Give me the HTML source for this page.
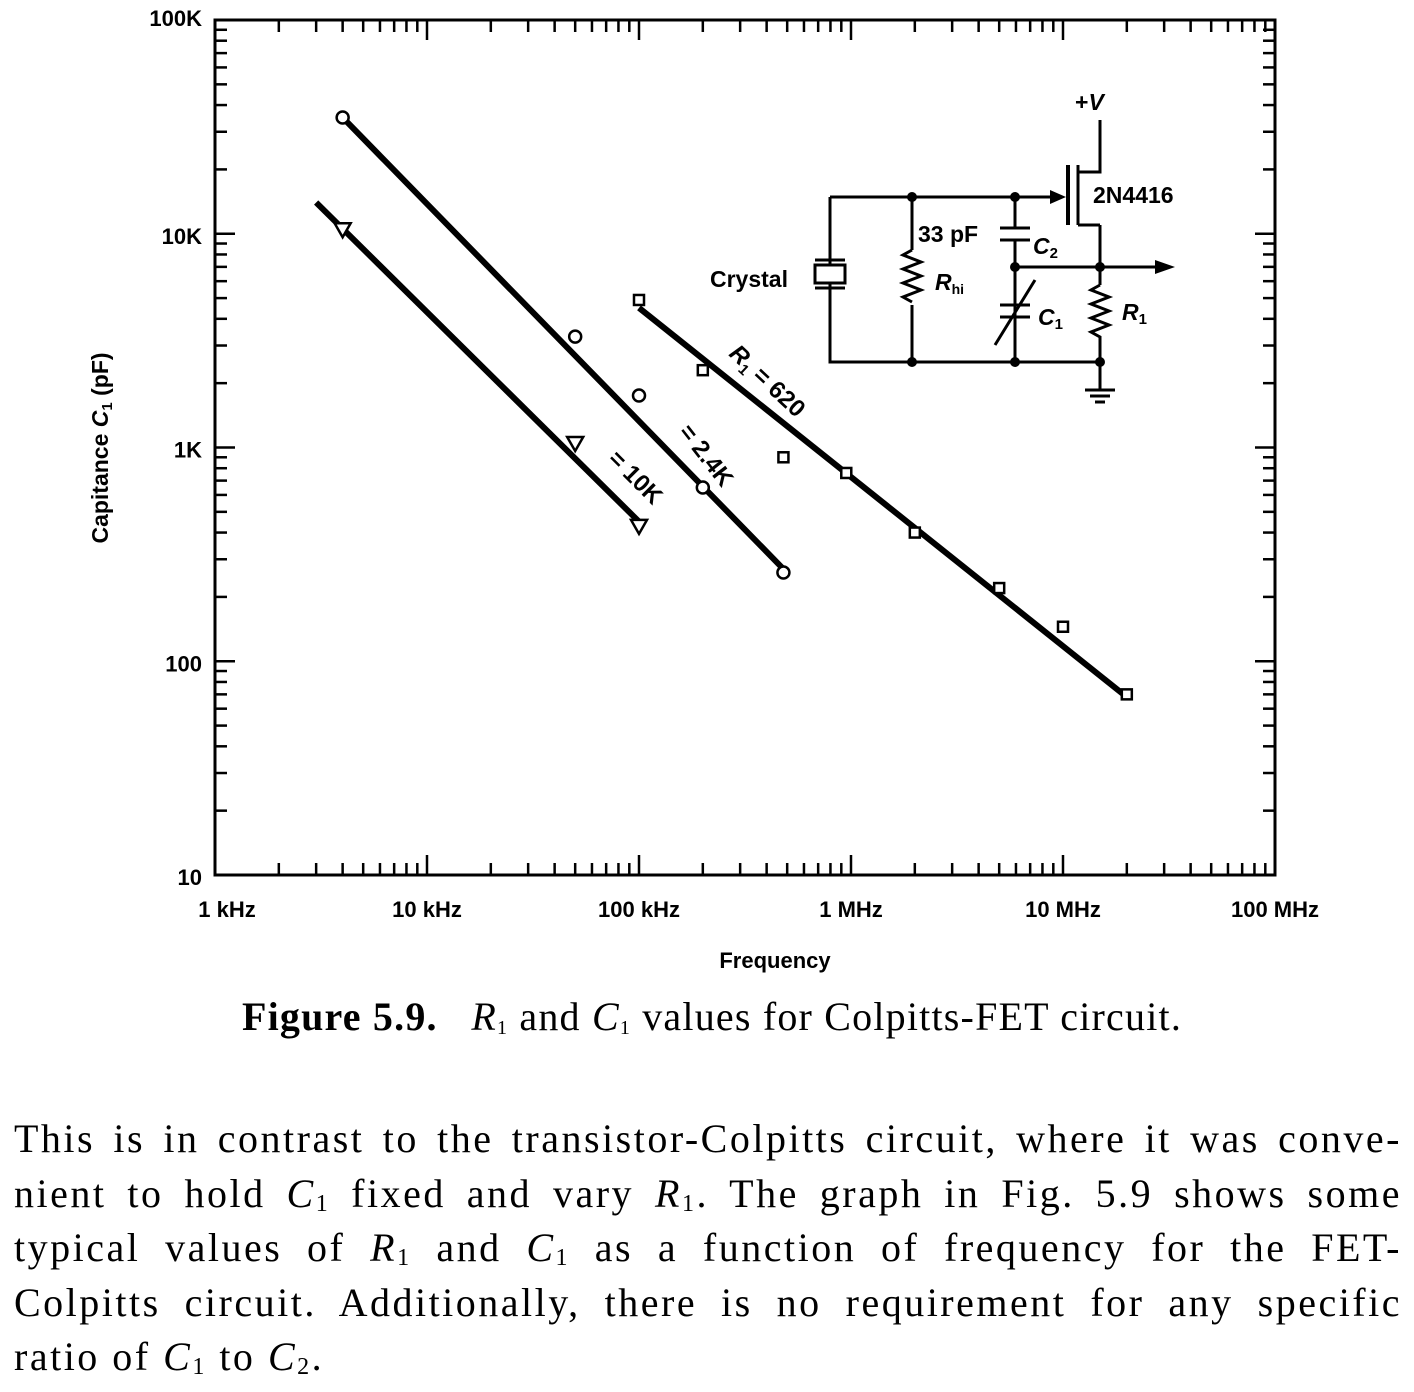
<!DOCTYPE html>
<html><head><meta charset="utf-8">
<style>
body{margin:0;background:#fff;width:1414px;height:1392px;overflow:hidden;position:relative;font-family:"Liberation Sans",sans-serif}
#cap{position:absolute;left:0;width:1424px;top:993px;text-align:center;font-family:"Liberation Serif",serif;font-size:40px;letter-spacing:1.2px}
#para{position:absolute;left:14px;width:1388px;top:1112px;font-family:"Liberation Serif",serif;font-size:40px;line-height:54.5px;letter-spacing:2.5px}
.ln{text-align:justify;text-align-last:justify;white-space:nowrap;height:54.5px}
.ln.last{text-align-last:left}
sub{font-size:24px;vertical-align:-4px;line-height:0}
</style></head><body>
<svg id="chart" width="1414" height="990" style="position:absolute;left:0;top:0" font-family="Liberation Sans, sans-serif"></svg>
<div id="cap"><b>Figure 5.9.</b>&nbsp;&nbsp; <i>R</i><sub style="font-size:20px">1</sub> and <i>C</i><sub style="font-size:20px">1</sub> values for Colpitts-FET circuit.</div>
<div id="para">
<div class="ln">This is in contrast to the transistor-Colpitts circuit, where it was conve-</div>
<div class="ln">nient to hold <i>C</i><sub>1</sub> fixed and vary <i>R</i><sub>1</sub>. The graph in Fig. 5.9 shows some</div>
<div class="ln">typical values of <i>R</i><sub>1</sub> and <i>C</i><sub>1</sub> as a function of frequency for the FET-</div>
<div class="ln">Colpitts circuit. Additionally, there is no requirement for any specific</div>
<div class="ln last">ratio of <i>C</i><sub>1</sub> to <i>C</i><sub>2</sub>.</div>
</div>
<script>
const xTickLabels=["1 kHz","10 kHz","100 kHz","1 MHz","10 MHz","100 MHz"];
const yTickLabels=["10","100","1K","10K","100K"];
const circF=[4,50,100,200,480];
const circC=[35000,3300,1750,650,260];
const triF=[4,50,100];
const triC=[10500,1050,430];
const sqF=[100,200,480,950,2000,5000,10000,20000];
const sqC=[4900,2300,900,760,400,220,145,70];
const lineCirc=[[4,35000],[480,270]];
const lineTri=[[3,14000],[100,450]];
const lineSq=[[100,4500],[20000,68]];

const L=215,R=1275,T=20,B=875;
const X=f=>L+(R-L)/5*Math.log10(f);
const Y=c=>B-(B-T)/4*Math.log10(c/10);
const svg=document.getElementById('chart');
const NS='http://www.w3.org/2000/svg';
function el(t,a,name){const e=document.createElementNS(NS,t);for(const k in a)e.setAttribute(k,a[k]);


svg.appendChild(e);return e;}
el('rect',{x:L,y:T,width:R-L,height:B-T,fill:'none',stroke:'#000','stroke-width':3},'plot-frame');
for(let d=0;d<5;d++)for(let m=1;m<=9;m++){const f=Math.pow(10,d)*m;const x=X(f);const len=m==1?20:12;
 el('line',{x1:x,y1:B,x2:x,y2:B-len,stroke:'#000','stroke-width':2.5},'x-tick');
 el('line',{x1:x,y1:T,x2:x,y2:T+len,stroke:'#000','stroke-width':2.5},'x-tick-top');}
for(let d=0;d<4;d++)for(let m=1;m<=9;m++){const c=10*Math.pow(10,d)*m;const y=Y(c);const len=m==1?20:12;
 el('line',{x1:L,y1:y,x2:L+len,y2:y,stroke:'#000','stroke-width':2.5},'y-tick');
 el('line',{x1:R,y1:y,x2:R-len,y2:y,stroke:'#000','stroke-width':2.5},'y-tick-right');}
xTickLabels.forEach((s,i)=>{const t=el('text',{x:X(Math.pow(10,i))+(i==0?12:0),y:917,'font-size':22,'font-weight':'bold','text-anchor':'middle'},'x-tick-label');t.textContent=s;});
yTickLabels.forEach((s,i)=>{const t=el('text',{x:202,y:Y(10*Math.pow(10,i))+(i==4?6:10),'font-size':22,'font-weight':'bold','text-anchor':'end'},'y-tick-label');t.textContent=s;});
let t=el('text',{x:775,y:968,'font-size':22,'font-weight':'bold','text-anchor':'middle'},'x-axis-title');t.textContent='Frequency';
t=el('text',{x:0,y:0,'font-size':23,'font-weight':'bold','text-anchor':'middle',transform:'translate(108,448) rotate(-90)'},'y-axis-title');
t.innerHTML='Capitance <tspan font-style="italic">C</tspan><tspan font-size="15" dy="4">1</tspan><tspan dy="-4"> (pF)</tspan>';
[[lineCirc,'line-2.4k'],[lineTri,'line-10k'],[lineSq,'line-620']].forEach(([p,n])=>
 el('line',{x1:X(p[0][0]),y1:Y(p[0][1]),x2:X(p[1][0]),y2:Y(p[1][1]),stroke:'#000','stroke-width':6},n));
circF.forEach((f,i)=>el('circle',{cx:X(f),cy:Y(circC[i]),r:6,fill:'#fff',stroke:'#000','stroke-width':2.5},'point-2.4k'));
triF.forEach((f,i)=>{const x=X(f),y=Y(triC[i]);el('polygon',{points:`${x-8},${y-6} ${x+8},${y-6} ${x},${y+8}`,fill:'#fff',stroke:'#000','stroke-width':2.5},'point-10k');});
sqF.forEach((f,i)=>el('rect',{x:X(f)-5,y:Y(sqC[i])-5,width:10,height:10,fill:'#fff',stroke:'#000','stroke-width':2.5},'point-620'));
t=el('text',{x:0,y:0,'font-size':24,'font-weight':'bold',transform:'translate(728,355) rotate(43)'},'label-620');
t.innerHTML='<tspan font-style="italic">R</tspan><tspan font-size="15" dy="5">1</tspan><tspan dy="-5"> = 620</tspan>';
t=el('text',{x:0,y:0,'font-size':24,'font-weight':'bold',transform:'translate(678,432) rotate(52)'},'label-2.4k');t.textContent='= 2.4K';
t=el('text',{x:0,y:0,'font-size':24,'font-weight':'bold',transform:'translate(607,460) rotate(45)'},'label-10k');t.textContent='= 10K';
// circuit inset
const g=[['M830,197 H1050','wire-top'],['M830,197 V362 H1100','wire-bottom'],['M912,197 V250','rhi-top'],['M912,305 V362','rhi-bottom'],
['M1015,197 V228','c2-top'],['M1015,240 V362','c2-bottom'],['M1015,267 H1100','wire-mid'],['M1100,225 V285','source'],['M1100,340 V390','r1-bottom'],
['M1100,120 V172 H1078','drain'],['M1078,165 V225','gate-channel'],['M1078,225 H1100','source-lead'],['M1100,267 H1160','output']];
g.forEach(([d,n])=>el('path',{d,fill:'none',stroke:'#000','stroke-width':3},'circuit-'+n));
el('path',{d:'M1068,165 V225',stroke:'#000','stroke-width':4},'circuit-channel');
el('path',{d:'M1040,197 L1060,197',stroke:'#000','stroke-width':3},'circuit-gate');
el('path',{d:'M1050,190 L1066,197 L1050,204Z',fill:'#000'},'circuit-gate-arrow');
el('path',{d:'M1155,260 L1175,267 L1155,274Z',fill:'#000'},'circuit-output-arrow');
el('path',{d:'M912,250 l-9,5 18,7 -18,7 18,7 -18,7 18,7 -18,7 9,5',fill:'none',stroke:'#000','stroke-width':3},'circuit-rhi');
el('path',{d:'M1100,285 l-9,5 18,7 -18,7 18,7 -18,7 18,7 -18,7 9,5 v13',fill:'none',stroke:'#000','stroke-width':3},'circuit-r1');
el('path',{d:'M1000,228 H1030 M1000,240 H1030 M1000,305 H1030 M1000,317 H1030 M1015,267 V305 M995,345 L1035,280',fill:'none',stroke:'#000','stroke-width':3},'circuit-caps');
el('rect',{x:815,y:265,width:30,height:18,fill:'#fff',stroke:'#000','stroke-width':3},'circuit-crystal');
el('path',{d:'M815,260 H845 M815,288 H845 M830,197 V260 M830,288 V362',fill:'none',stroke:'#000','stroke-width':3},'circuit-crystal-plates');
el('path',{d:'M1085,390 H1115 M1090,396 H1110 M1095,402 H1105',fill:'none',stroke:'#000','stroke-width':3},'circuit-ground');
[[912,197],[1015,197],[912,362],[1015,362],[1015,267],[1100,267],[1100,362]].forEach(([x,y])=>el('circle',{cx:x,cy:y,r:5,fill:'#000'},'circuit-node'));
const labs=[[1075,110,'+<tspan font-style="italic">V</tspan>','vplus'],[1093,203,'2N4416','fet'],[918,242,'33 pF','c2-value'],[710,287,'Crystal','crystal'],
[935,290,'<tspan font-style="italic">R</tspan><tspan font-size="14" dy="4">hi</tspan>','rhi'],[1033,254,'<tspan font-style="italic">C</tspan><tspan font-size="15" dy="4">2</tspan>','c2'],
[1038,325,'<tspan font-style="italic">C</tspan><tspan font-size="15" dy="4">1</tspan>','c1'],[1122,320,'<tspan font-style="italic">R</tspan><tspan font-size="15" dy="4">1</tspan>','r1']];
labs.forEach(([x,y,h,n])=>{const e=el('text',{x,y,'font-size':23,'font-weight':'bold'},'circuit-label-'+n);e.innerHTML=h;});
</script>
</body></html>
